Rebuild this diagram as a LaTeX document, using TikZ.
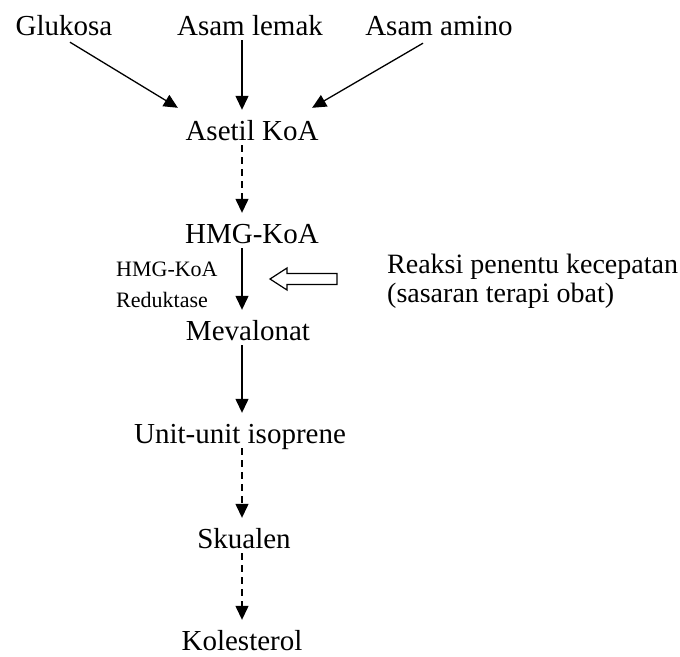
\documentclass[tikz,border=0pt]{standalone}
\usepackage{fontspec}
\setmainfont{Liberation Serif}
\usetikzlibrary{arrows.meta}

\begin{document}
\begin{tikzpicture}[x=1pt,y=-1pt]
    \tikzset{
      vertex/.style={inner sep=0pt, text height=20pt, text depth=0pt, anchor=base, font=\fontsize{29}{33}\selectfont},
      note/.style={inner sep=0pt, anchor=base west, align=left},
      edge/.style={-{Triangle[length=14pt,width=13pt]}, line width=1.3pt, shorten <=5pt, shorten >=10pt},
      dashedge/.style={edge, dash pattern=on 7pt off 5pt}
    }
    \useasboundingbox (0,0) rectangle (680,656);
    \coordinate (axis) at (242,0);
    % vertices
    \node[vertex] (glukosa) at (64,35) {Glukosa};
    \node[vertex] (lemak) at (250,35) {Asam lemak};
    \node[vertex] (amino) at (439,35) {Asam amino};
    \node[vertex] (asetil) at (252,140) {Asetil KoA};
    \node[vertex] (hmg) at (252,243) {HMG-KoA};
    \node[vertex] (mevalonat) at (248,340) {Mevalonat};
    \node[vertex] (isoprene) at (240,443) {Unit-unit isoprene};
    \node[vertex] (skualen) at (244,548) {Skualen};
    \node[vertex] (kolesterol) at (242,650) {Kolesterol};
    % last-line baselines
    \node[note, font=\fontsize{22}{31}\selectfont] (reduktase) at (116,307) {HMG-KoA\\Reduktase};
    \node[note, font=\fontsize{28}{29}\selectfont] (penentu) at (387,302) {Reaksi penentu kecepatan\\(sasaran terapi obat)};

    %edges
    \draw[edge, shorten <=0pt, shorten >=0pt] ([shift={(6pt,-7pt)}]glukosa.south) -- ([shift={(-7.5pt,12pt)}]asetil.north west);
    \draw[edge] (lemak.south -| axis) -- (asetil.north -| axis);
    \draw[edge, shorten <=0pt, shorten >=0pt] ([shift={(-16pt,-8pt)}]amino.south) -- ([shift={(-6.5pt,12pt)}]asetil.north east);
    \draw[dashedge] (asetil.south -| axis) -- (hmg.north -| axis);
    \draw[edge] (hmg.south -| axis) -- (mevalonat.north -| axis);
    \draw[edge] (mevalonat.south -| axis) -- (isoprene.north -| axis);
    \draw[dashedge] (isoprene.south -| axis) -- (skualen.north -| axis);
    \draw[dashedge] (skualen.south -| axis) -- (kolesterol.north -| axis);

    % hollow arrow
    \draw[line width=1.2pt, line join=miter] (270,279) -- (287,268) -- (287,273.5) -- (337,273.5)
      -- (337,284.5) -- (287,284.5) -- (287,290) -- cycle;
\end{tikzpicture}
\end{document}
